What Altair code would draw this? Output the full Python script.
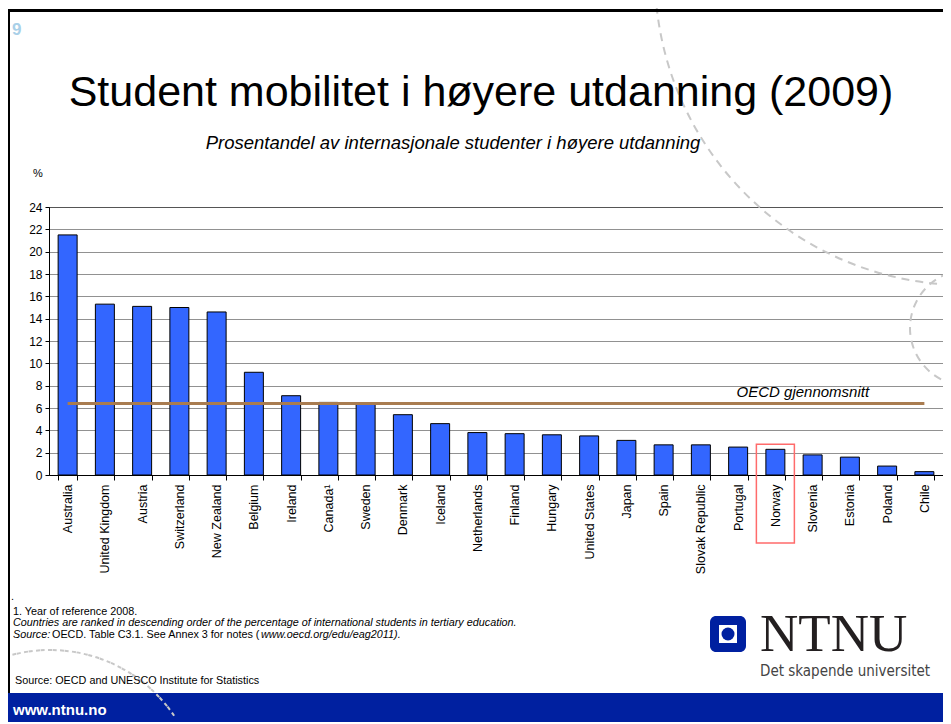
import math
import altair as alt
import pandas as pd

# ---------------- data ----------------
countries = ["Australia", "United Kingdom", "Austria", "Switzerland", "New Zealand",
             "Belgium", "Ireland", "Canada¹", "Sweden", "Denmark", "Iceland",
             "Netherlands", "Finland", "Hungary", "United States", "Japan", "Spain",
             "Slovak Republic", "Portugal", "Norway", "Slovenia", "Estonia", "Poland", "Chile"]
values = [21.5, 15.3, 15.1, 15.0, 14.6, 9.2, 7.1, 6.5, 6.4, 5.4, 4.6, 3.8,
          3.7, 3.6, 3.5, 3.1, 2.7, 2.7, 2.5, 2.3, 1.8, 1.6, 0.8, 0.3]
y_ticks = list(range(0, 25, 2))
oecd_avg = 6.4
oecd_label = "OECD gjennomsnitt"
oecd_label_anchor = "Poland"
highlight_country = "Norway"
highlight_top = 2.75
highlight_bottom = -6.1

slide_number = "9"
title_text = "Student mobilitet i høyere utdanning (2009)"
subtitle_text = "Prosentandel av internasjonale studenter i høyere utdanning"
unit_text = "%"
note_dot = "."
note_1 = "1. Year of reference 2008."
note_2 = "Countries are ranked in descending order of the percentage of international students in tertiary education."
note_3a = "Source:"
note_3b = "OECD. Table C3.1. See Annex 3 for notes ("
note_3c = "www.oecd.org/edu/eag2011)."
source_text = "Source: OECD and UNESCO Institute for Statistics"
url_text = "www.ntnu.no"
logo_text = "NTNU"
logo_tagline = "Det skapende universitet"

FONT = "Liberation Sans, Arial, sans-serif"
BLUE = "#0020A0"
ARC_GREY = "#c8c8c8"

df = pd.DataFrame({"country": countries, "value": values})

x_scale = alt.Scale(domain=countries, paddingInner=0.49, paddingOuter=0.245)
y_scale = alt.Scale(domain=[0, 24], nice=False)

x_axis = alt.Axis(labelAngle=-90, tickBand="extent", tickSize=5,
                  labelPadding=4, labelFontSize=12.5, labelFont=FONT,
                  labelColor="#000000", domainColor="#000000",
                  tickColor="#000000", grid=False, title=None, labelOverlap=False)
y_axis = alt.Axis(values=y_ticks, tickSize=4, labelPadding=3,
                  labelFontSize=12, labelFont=FONT, labelColor="#000000",
                  domainColor="#000000", tickColor="#000000",
                  grid=True, gridColor="#222222", gridDash=[1, 1],
                  gridWidth=1, title=None, labelOverlap=False)


def X(field="country:N"):
    return alt.X(field, sort=countries, scale=x_scale, axis=x_axis, title=None)


def Y(field="value:Q"):
    return alt.Y(field, scale=y_scale, axis=y_axis, title=None)


one = pd.DataFrame({"a": [0]})


def txt(s, x, y, size, align="left", color="#000000", style="normal", weight="normal", font=FONT):
    return alt.Chart(pd.DataFrame({"t": [s]})).mark_text(
        align=align, baseline="alphabetic", fontSize=size, font=font,
        color=color, fontStyle=style, fontWeight=weight
    ).encode(x=alt.value(x), y=alt.value(y), text="t:N")


def pie_arc(cx, cy, r, t1, t2):
    # decorative dashed arc; its radial sides lie outside the canvas
    return alt.Chart(one).mark_arc(fillOpacity=0, stroke=ARC_GREY, strokeWidth=2,
                                   strokeDash=[8, 6]).encode(
        x=alt.value(cx), y=alt.value(cy),
        theta=alt.value(t1), theta2=alt.value(t2), radius=alt.value(r))


def thin_arc(cx, cy, r, t1, t2):
    return alt.Chart(one).mark_arc(fillOpacity=0, stroke=ARC_GREY, strokeWidth=2,
                                   strokeDash=[4, 8]).encode(
        x=alt.value(cx), y=alt.value(cy),
        theta=alt.value(t1), theta2=alt.value(t2),
        radius=alt.value(r), radius2=alt.value(r))


def rect(x1, x2, y1, y2, color, **kw):
    return alt.Chart(one).mark_rect(color=color, **kw).encode(
        x=alt.value(x1), x2=alt.value(x2), y=alt.value(y1), y2=alt.value(y2))


# decorations
arc_big = pie_arc(916, -232, 310, math.pi, 4.75)
arc_small = pie_arc(919, 121, 58, math.pi, 6.1)
band = rect(-41, 900, 486, 515, BLUE)
border_top = rect(-41, 900, -198, -195, "#000000")
border_left = rect(-41, -39, -198, 486, "#000000")
arc_bottom = thin_arc(1, 593, 150, 6.03, 7.26)

bars = alt.Chart(df).mark_bar(color="#3366FF", stroke="#000000", strokeWidth=1).encode(
    x=X(), y=Y())

oecd_df = pd.DataFrame({"country": [countries[0]], "c2": [countries[-1]], "value": [oecd_avg]})
oecd_rule = alt.Chart(oecd_df).mark_rule(color="#A97C50", strokeWidth=3).encode(
    x=X(), x2="c2:N", y=Y())

oecd_txt = alt.Chart(pd.DataFrame({"country": [oecd_label_anchor], "value": [oecd_avg],
                                   "t": [oecd_label]})).mark_text(
    align="right", baseline="alphabetic", dx=-18, dy=-7, fontSize=15, font=FONT,
    fontStyle="italic", color="#000000"
).encode(x=X(), y=Y(), text="t:N")

hl = alt.Chart(pd.DataFrame({"country": [highlight_country], "value": [highlight_top],
                             "v2": [highlight_bottom]})).mark_bar(
    width=38, fillOpacity=0, stroke="#FF6B6B", strokeWidth=1.5
).encode(x=X(), y=Y(), y2="v2:Q")

# texts
t_num = txt(slide_number, -37, -172, 17, color="#A9D0E8", weight="bold")
t_title = txt(title_text, 432, -101, 43, align="center")
t_sub = txt(subtitle_text, 404, -58, 18.5, align="center", style="italic")
t_unit = txt(unit_text, -16, -30, 11)
t_dot = txt(note_dot, -38, 393, 10.8)
t_n1 = txt(note_1, -36, 408, 10.8)
t_n2 = txt(note_2, -36, 419, 10.8, style="italic")
t_n3a = txt(note_3a, -36, 431, 10.8, style="italic")
t_n3b = txt(note_3b, 3, 431, 10.8)
t_n3c = txt(note_3c, 212, 431, 10.8, style="italic")
t_src = txt(source_text, -34, 477, 10.8)
t_url = txt(url_text, -36, 508, 15, color="#FFFFFF", weight="bold")

# logo
logo_box = rect(661, 697, 409, 445, BLUE, cornerRadius=6)
logo_inner = rect(670, 688, 418, 436, "#FFFFFF")
logo_dot = alt.Chart(one).mark_point(filled=True, shape="circle", color=BLUE, opacity=1).encode(
    x=alt.value(679), y=alt.value(427), size=alt.value(169))
t_logo = txt(logo_text, 711, 444, 53, color="#231F20", font="Liberation Serif, Times New Roman, serif")
t_tag = txt(logo_tagline, 711, 469, 15, color="#444444",
            font="DejaVu Sans Condensed, Liberation Sans Narrow, DejaVu Sans, sans-serif")

chart = alt.layer(
    arc_big, arc_small, band, border_top, border_left, arc_bottom,
    bars, oecd_rule, oecd_txt, hl,
    t_num, t_title, t_sub, t_unit, t_dot, t_n1, t_n2, t_n3a, t_n3b, t_n3c, t_src, t_url,
    logo_box, logo_inner, logo_dot, t_logo, t_tag,
).properties(
    width=894, height=268,
    padding={"left": 41, "top": 199, "right": 0, "bottom": 247},
    autosize=alt.AutoSizeParams(type="none"),
    background="#FFFFFF",
).configure_view(stroke="#888888", strokeWidth=1)

chart.save("out.html", embed_options={"renderer": "svg", "actions": False})
